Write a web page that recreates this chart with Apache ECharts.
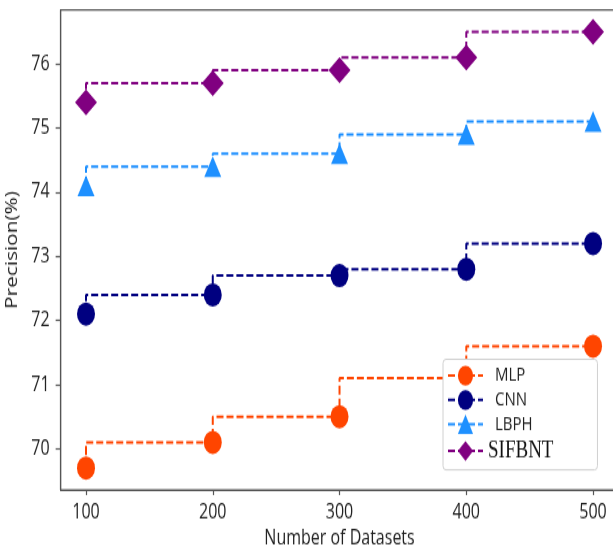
<!DOCTYPE html>
<html>
<head>
<meta charset="utf-8">
<script src="https://cdn.jsdelivr.net/npm/echarts@6/dist/echarts.min.js"></script>
<style>
html,body{margin:0;padding:0;background:#fff;width:613px;height:547px;}
#chart{width:613px;height:421px;transform:scaleY(1.2993);transform-origin:0 0;}
</style>
</head>
<body>
<div id="chart"></div>
<script>
// Data
const datasets = [100, 200, 300, 400, 500];
const mlp    = [69.7, 70.1, 70.5, 71.1, 71.6];
const cnn    = [72.1, 72.4, 72.7, 72.8, 73.2];
const lbph   = [74.1, 74.4, 74.6, 74.9, 75.1];
const sifbnt = [75.4, 75.7, 75.9, 76.1, 76.5];
const yTicks = [70, 71, 72, 73, 74, 75, 76];
const xTicks = [100, 200, 300, 400, 500];

const pairs = ys => datasets.map((x, i) => [x, ys[i]]);

const chart = echarts.init(document.getElementById('chart'));
const font = '"Open Sans", "DejaVu Sans", sans-serif';

function mk(name, ys, color, symbol, size) {
  return {
    name: name,
    type: 'line',
    step: 'start',
    data: pairs(ys),
    symbol: symbol,
    symbolSize: size,
    showSymbol: true,
    itemStyle: { color: color, opacity: 1 },
    lineStyle: { color: color, width: 2, type: [7, 3] },
    emphasis: { disabled: true },
    animation: false
  };
}

chart.setOption({
  animation: false,
  grid: {
    left: 60.65, top: 7.7, right: -5.4, bottom: 44,
    outerBoundsMode: 'none',
    containLabel: false,
    show: true, borderColor: '#555', borderWidth: 1.2, backgroundColor: 'transparent'
  },
  xAxis: {
    type: 'value', min: 80, max: 520,
    name: 'Number of Datasets', nameLocation: 'middle', nameGap: 29,
    nameTextStyle: { fontFamily: font, fontSize: 16, color: '#222' },
    axisLine: { show: true, lineStyle: { color: '#555', width: 1.2 } },
    axisTick: { show: true, length: 4, customValues: xTicks, lineStyle: { color: '#555', width: 1.2 } },
    axisLabel: { customValues: xTicks, fontFamily: font, fontSize: 16, color: '#222', margin: 9 },
    splitLine: { show: false }
  },
  yAxis: {
    type: 'value', min: 69.36, max: 76.84,
    name: 'Precision(%)', nameLocation: 'middle', nameGap: 31, nameRotate: 90,
    nameTextStyle: { fontFamily: font, fontSize: 16, color: '#222' },
    axisLine: { show: true, lineStyle: { color: '#555', width: 1.2 } },
    axisTick: { show: true, length: 5, customValues: yTicks, lineStyle: { color: '#555', width: 1.2 } },
    axisLabel: { customValues: yTicks, fontFamily: font, fontSize: 16, color: '#222', margin: 11 },
    splitLine: { show: false }
  },
  legend: {
    orient: 'vertical',
    left: 443, top: 276.5,
    padding: [5, 44, 5, 4],
    itemGap: 3.5,
    itemWidth: 35, itemHeight: 19,
    backgroundColor: '#fff',
    borderColor: '#d0d0d0', borderWidth: 1, borderRadius: 3,
    data: ['MLP', 'CNN', 'LBPH', 'SIFBNT'],
    formatter: function (n) { return n === 'SIFBNT' ? '{s|' + n + '}' : '{n|' + n + '}'; },
    textStyle: {
      rich: {
        n: { fontFamily: font, fontSize: 15, color: '#222', padding: [0, 0, 0, 7], lineHeight: 19 },
        s: { fontFamily: '"Liberation Serif", "Times New Roman", serif', fontSize: 19, color: '#111', lineHeight: 19 }
      }
    }
  },
  series: [
    mk('MLP', mlp, '#FF4500', 'circle', 18),
    mk('CNN', cnn, '#000080', 'circle', 18),
    mk('LBPH', lbph, '#1E90FF', 'triangle', [17, 16]),
    mk('SIFBNT', sifbnt, '#800080', 'diamond', [22, 20])
  ]
});
</script>
</body>
</html>
